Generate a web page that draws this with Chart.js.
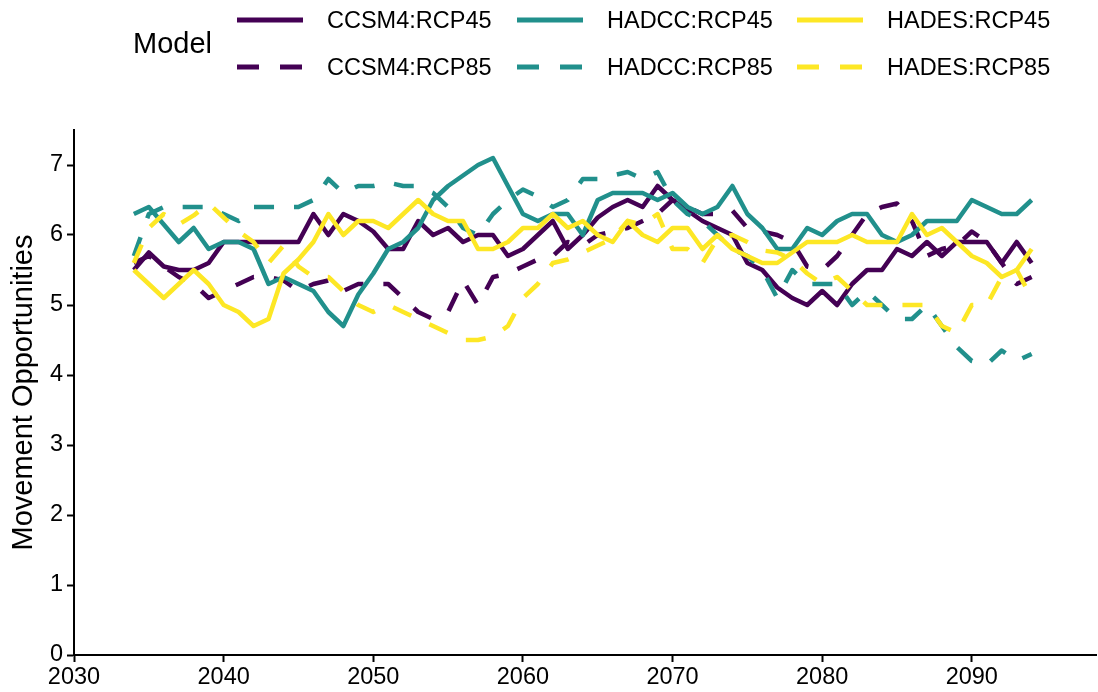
<!DOCTYPE html>
<html>
<head>
<meta charset="utf-8">
<script src="https://cdn.jsdelivr.net/npm/chart.js@4.4.0/dist/chart.umd.min.js"></script>
<style>
    html, body { margin: 0; padding: 0; background: #fff; }
    #wrap { position: relative; width: 1098px; height: 692px; font-family: "Liberation Sans", Arial, sans-serif; color: #000; }
    #myChart { position: absolute; left: 0; top: 0; }
    .legend-title { position: absolute; left: 133px; top: 25px; font-size: 29px; line-height: 36px; }
    .legend-item { position: absolute; height: 30px; display: flex; align-items: center; font-size: 23.5px; white-space: nowrap; }
    .legend-item svg { margin-right: 24px; }
</style>
</head>
<body>
<div id="wrap">
    <canvas id="myChart" width="1098" height="692"></canvas>
    <div id="legend"></div>
</div>
<script>
const years = [2034, 2035, 2036, 2037, 2038, 2039, 2040, 2041, 2042, 2043,
    2044, 2045, 2046, 2047, 2048, 2049, 2050, 2051, 2052, 2053,
    2054, 2055, 2056, 2057, 2058, 2059, 2060, 2061, 2062, 2063,
    2064, 2065, 2066, 2067, 2068, 2069, 2070, 2071, 2072, 2073,
    2074, 2075, 2076, 2077, 2078, 2079, 2080, 2081, 2082, 2083,
    2084, 2085, 2086, 2087, 2088, 2089, 2090, 2091, 2092, 2093,
    2094];

const ccsm4Rcp45 = [5.5, 5.75, 5.55, 5.5, 5.5, 5.6, 5.9, 5.9, 5.9, 5.9,
    5.9, 5.9, 6.3, 6.0, 6.3, 6.2, 6.05, 5.8, 5.8, 6.2,
    6.0, 6.1, 5.9, 6.0, 6.0, 5.7, 5.8, 6.0, 6.2, 5.8,
    6.0, 6.25, 6.4, 6.5, 6.4, 6.7, 6.5, 6.35, 6.2, 6.1,
    6.0, 5.6, 5.5, 5.25, 5.1, 5.0, 5.2, 5.0, 5.3, 5.5,
    5.5, 5.8, 5.7, 5.9, 5.7, 5.9, 5.9, 5.9, 5.6, 5.9,
    5.6];

const ccsm4Rcp85 = [5.6, 5.7, 5.55, 5.4, 5.3, 5.1, 5.2, 5.3, 5.4, 5.4,
    5.35, 5.2, 5.3, 5.35, 5.2, 5.3, 5.3, 5.3, 5.1, 4.9,
    4.8, 4.9, 5.35, 5.0, 5.4, 5.45, 5.55, 5.65, 5.7, 5.9,
    5.85, 6.0, 6.05, 6.1, 6.2, 6.3, 6.5, 6.4, 6.3, 6.3,
    6.35, 6.1, 6.05, 6.0, 5.9, 5.55, 5.5, 5.7, 6.0, 6.3,
    6.4, 6.45, 6.2, 5.7, 5.8, 5.85, 6.05, 5.9, 5.6, 5.3,
    5.4];

const hadccRcp45 = [6.3, 6.4, 6.15, 5.9, 6.1, 5.8, 5.9, 5.9, 5.8, 5.3,
    5.4, 5.3, 5.2, 4.9, 4.7, 5.15, 5.45, 5.8, 5.9, 6.1,
    6.5, 6.7, 6.85, 7.0, 7.1, 6.7, 6.3, 6.2, 6.3, 6.3,
    6.0, 6.5, 6.6, 6.6, 6.6, 6.5, 6.6, 6.4, 6.3, 6.4,
    6.7, 6.3, 6.1, 5.8, 5.8, 6.1, 6.0, 6.2, 6.3, 6.3,
    6.0, 5.9, 6.0, 6.2, 6.2, 6.2, 6.5, 6.4, 6.3, 6.3,
    6.5];

const hadccRcp85 = [5.7, 6.3, 6.4, 6.4, 6.4, 6.4, 6.3, 6.2, 6.4, 6.4,
    6.4, 6.4, 6.5, 6.8, 6.6, 6.7, 6.7, 6.75, 6.7, 6.7,
    6.6, 6.4, 6.1, 6.0, 6.3, 6.5, 6.65, 6.55, 6.4, 6.5,
    6.8, 6.8, 6.85, 6.9, 6.8, 6.9, 6.5, 6.3, 6.2, 6.0,
    5.8, 5.7, 5.5, 5.1, 5.5, 5.3, 5.3, 5.3, 5.0, 5.2,
    5.0, 4.8, 4.8, 5.0, 4.7, 4.4, 4.2, 4.15, 4.35, 4.2,
    4.3];

const hadesRcp45 = [5.5, 5.3, 5.1, 5.3, 5.5, 5.3, 5.0, 4.9, 4.7, 4.8,
    5.45, 5.65, 5.9, 6.3, 6.0, 6.2, 6.2, 6.1, 6.3, 6.5,
    6.3, 6.2, 6.2, 5.8, 5.8, 5.9, 6.1, 6.1, 6.3, 6.1,
    6.2, 6.0, 5.9, 6.2, 6.0, 5.9, 6.1, 6.1, 5.8, 6.0,
    5.8, 5.7, 5.6, 5.6, 5.75, 5.9, 5.9, 5.9, 6.0, 5.9,
    5.9, 5.9, 6.3, 6.0, 6.1, 5.9, 5.7, 5.6, 5.4, 5.5,
    5.8];

const hadesRcp85 = [5.6, 6.1, 6.3, 6.15, 6.28, 6.45, 6.25, 6.05, 5.9, 5.6,
    5.85, 5.55, 5.4, 5.4, 5.2, 5.0, 4.9, 5.0, 4.9, 4.8,
    4.7, 4.6, 4.5, 4.5, 4.55, 4.7, 5.1, 5.3, 5.6, 5.65,
    5.75, 5.85, 5.95, 6.2, 6.15, 6.3, 5.8, 5.8, 5.6, 5.95,
    6.0, 5.9, 5.78, 5.75, 5.65, 5.45, 5.3, 5.4, 5.2, 5.0,
    5.0, 5.0, 5.0, 5.0, 4.7, 4.6, 5.0, 5.0, 5.4, 5.5,
    5.1];

const xTickValues = [2030, 2040, 2050, 2060, 2070, 2080, 2090];
const yTickValues = [0, 1, 2, 3, 4, 5, 6, 7];

const seriesLabels = ['CCSM4:RCP45', 'HADCC:RCP45', 'HADES:RCP45', 'CCSM4:RCP85', 'HADCC:RCP85', 'HADES:RCP85'];
const seriesValues = [ccsm4Rcp45, hadccRcp45, hadesRcp45, ccsm4Rcp85, hadccRcp85, hadesRcp85];
const seriesColors = ['#440154', '#21908C', '#FDE725', '#440154', '#21908C', '#FDE725'];
const seriesDashed = [false, false, false, true, true, true];
const drawOrder = [6, 4, 2, 5, 3, 1]; // yellow on top, purple at the back

const fontFamily = '"Liberation Sans", Arial, sans-serif';
const dashPattern = [20, 20];

// legend: 3 columns x 2 rows, like ggplot
const legendEl = document.getElementById('legend');
const titleEl = document.createElement('div');
titleEl.className = 'legend-title';
titleEl.textContent = 'Model';
legendEl.appendChild(titleEl);

seriesLabels.forEach((label, i) => {
    const col = i % 3;
    const row = Math.floor(i / 3);
    const item = document.createElement('div');
    item.className = 'legend-item';
    item.style.left = (237 + col * 280) + 'px';
    item.style.top = (5 + row * 47) + 'px';
    const dash = seriesDashed[i] ? ' stroke-dasharray="22 21"' : '';
    item.innerHTML = '<svg width="66" height="10"><line x1="0" y1="5" x2="66" y2="5" stroke="' +
        seriesColors[i] + '" stroke-width="5"' + dash + '/></svg><span>' + label + '</span>';
    legendEl.appendChild(item);
});

const ctx = document.getElementById('myChart').getContext('2d');

const datasets = seriesLabels.map((label, i) => ({
    label: label,
    data: years.map((yr, j) => ({ x: yr, y: seriesValues[i][j] })),
    borderColor: seriesColors[i],
    backgroundColor: seriesColors[i],
    borderWidth: 4.5,
    borderDash: seriesDashed[i] ? dashPattern : [],
    borderCapStyle: 'butt',
    borderJoinStyle: 'round',
    pointRadius: 0,
    tension: 0,
    fill: false,
    order: drawOrder[i]
}));

new Chart(ctx, {
    type: 'line',
    data: { datasets: datasets },
    options: {
        responsive: false,
        animation: false,
        devicePixelRatio: 1,
        layout: { padding: { left: 0, right: 2, top: 130, bottom: 0 } },
        plugins: {
            legend: { display: false },
            tooltip: { enabled: false }
        },
        scales: {
            x: {
                type: 'linear',
                min: 2030,
                max: 2098.3,
                afterBuildTicks: (axis) => { axis.ticks = xTickValues.map(v => ({ value: v })); },
                afterFit: (scale) => { scale.height = 37; },
                grid: { drawOnChartArea: false, color: '#000', tickLength: 7, tickWidth: 2 },
                border: { color: '#000', width: 2 },
                ticks: {
                    color: '#000',
                    padding: 1,
                    maxRotation: 0,
                    autoSkip: false,
                    font: { family: fontFamily, size: 23.5 },
                    callback: (v) => String(v)
                }
            },
            y: {
                min: 0,
                max: 7.5,
                afterBuildTicks: (axis) => { axis.ticks = yTickValues.map(v => ({ value: v })); },
                afterFit: (scale) => { scale.width = 74; },
                grid: { drawOnChartArea: false, color: '#000', tickLength: 7, tickWidth: 2 },
                border: { color: '#000', width: 2 },
                ticks: {
                    color: '#000',
                    padding: 4,
                    font: { family: fontFamily, size: 23.5 }
                },
                title: {
                    display: true,
                    text: 'Movement Opportunities',
                    color: '#000',
                    font: { family: fontFamily, size: 29, lineHeight: 1.2 },
                    padding: { top: 7, bottom: 0 }
                }
            }
        }
    }
});
</script>
</body>
</html>
